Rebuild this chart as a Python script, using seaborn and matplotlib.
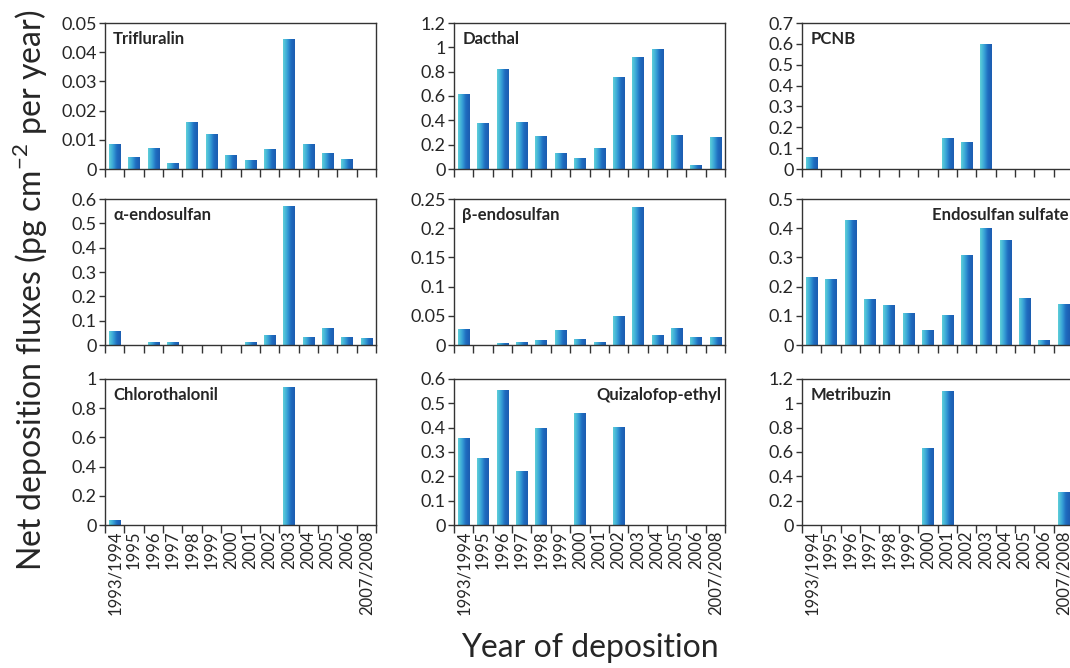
import numpy as np
import matplotlib
matplotlib.use("Agg")
import matplotlib.pyplot as plt
from matplotlib.colors import LinearSegmentedColormap
from matplotlib.ticker import FuncFormatter, MultipleLocator
import seaborn as sns

sns.set_style("ticks")
plt.rcParams["font.family"] = ["Lato", "DejaVu Sans"]
plt.rcParams["mathtext.fontset"] = "custom"
plt.rcParams["mathtext.rm"] = "Lato"

# Data
years = ["1993/1994", "1995", "1996", "1997", "1998", "1999", "2000",
         "2001", "2002", "2003", "2004", "2005", "2006", "2007/2008"]

trifluralin = [0.0085, 0.004, 0.007, 0.002, 0.016, 0.0118, 0.0047,
               0.003, 0.0066, 0.0445, 0.0085, 0.0053, 0.0034, 0]
dacthal = [0.61, 0.37, 0.82, 0.38, 0.27, 0.13, 0.09,
           0.17, 0.75, 0.92, 0.98, 0.275, 0.03, 0.26]
pcnb = [0.055, 0, 0, 0, 0, 0, 0, 0.145, 0.125, 0.595, 0, 0, 0, 0]
a_endosulfan = [0.055, 0, 0.012, 0.01, 0, 0, 0,
                0.01, 0.04, 0.57, 0.032, 0.068, 0.032, 0.028]
b_endosulfan = [0.027, 0, 0.003, 0.004, 0.007, 0.025, 0.01,
                0.005, 0.049, 0.236, 0.017, 0.029, 0.012, 0.013]
endo_sulfate = [0.232, 0.225, 0.425, 0.155, 0.135, 0.107, 0.05,
                0.1, 0.305, 0.4, 0.357, 0.16, 0.017, 0.137]
chlorothalonil = [0.03, 0, 0, 0, 0, 0, 0, 0, 0, 0.94, 0, 0, 0, 0]
quizalofop = [0.355, 0.275, 0.553, 0.22, 0.395, 0, 0.457,
              0, 0.402, 0, 0, 0, 0, 0]
metribuzin = [0, 0, 0, 0, 0, 0, 0.63, 1.1, 0, 0, 0, 0, 0, 0.265]

compounds = ["Trifluralin", "Dacthal", "PCNB",
             "α-endosulfan", "β-endosulfan", "Endosulfan sulfate",
             "Chlorothalonil", "Quizalofop-ethyl", "Metribuzin"]
series = [trifluralin, dacthal, pcnb,
          a_endosulfan, b_endosulfan, endo_sulfate,
          chlorothalonil, quizalofop, metribuzin]
ymax = [0.05, 1.2, 0.7, 0.6, 0.25, 0.5, 1.0, 0.6, 1.2]
ystep = [0.01, 0.2, 0.1, 0.1, 0.05, 0.1, 0.2, 0.1, 0.2]
label_right = ["Endosulfan sulfate", "Quizalofop-ethyl"]

grad_cmap = LinearSegmentedColormap.from_list(
    "bar", ["#5fd0d8", "#3aa6d8", "#1f6cc0", "#1c5cb0"])
gradient = np.linspace(0, 1, 64).reshape(1, -1)

W, H = 1070, 668
fig = plt.figure(figsize=(W / 100, H / 100), dpi=100)

col_left = [105, 454, 802]
col_width = 271
row_top = [23, 199, 379]
row_height = 146

fmt = FuncFormatter(lambda v, p: f"{v:g}")

for i, (name, vals) in enumerate(zip(compounds, series)):
    r, c = divmod(i, 3)
    ax = fig.add_axes([col_left[c] / W, 1 - (row_top[r] + row_height) / H,
                       col_width / W, row_height / H])
    sns.barplot(x=years, y=vals, ax=ax, width=0.58, color="#2a8fd0",
                order=years)
    # gradient fill on each bar
    for patch in list(ax.patches):
        x0, y0 = patch.get_x(), patch.get_y()
        w, h = patch.get_width(), patch.get_height()
        patch.set_facecolor("none")
        patch.set_edgecolor("none")
        if h <= 0:
            continue
        ax.imshow(gradient, extent=[x0, x0 + w, y0, y0 + h], cmap=grad_cmap,
                  aspect="auto", interpolation="bicubic", zorder=2)

    ax.set_xlim(-0.5, len(years) - 0.5)
    ax.set_ylim(0, ymax[i])
    ax.yaxis.set_major_locator(MultipleLocator(ystep[i]))
    ax.yaxis.set_major_formatter(fmt)
    ax.set_xlabel("")
    ax.set_ylabel("")

    # boundary ticks, labels at centres
    ax.set_xticks(np.arange(-0.5, len(years)), minor=False)
    ax.set_xticklabels([])
    ax.set_xticks(np.arange(len(years)), minor=True)
    if r == 2:
        ax.set_xticklabels(years, minor=True, rotation=90, fontsize=12)
    else:
        ax.set_xticklabels([], minor=True)
    ax.tick_params(axis="x", which="major", length=6, width=1,
                   color="#333333", direction="out")
    ax.tick_params(axis="x", which="minor", length=0, pad=4)
    ax.tick_params(axis="y", length=4, width=1, color="#333333",
                   labelsize=13, pad=2)
    for sp in ax.spines.values():
        sp.set_color("#333333")
        sp.set_linewidth(1)
        sp.set_visible(True)

    if name in label_right:
        ax.text(0.985, 0.89, name, transform=ax.transAxes, ha="right",
                va="center", fontsize=12, fontweight="bold")
    else:
        ax.text(0.03, 0.89, name, transform=ax.transAxes, ha="left",
                va="center", fontsize=12, fontweight="bold")

fig.text(30 / W, 1 - 290 / H, "Net deposition fluxes (pg cm$^{-2}$ per year)",
         rotation=90, ha="center", va="center", fontsize=23)
fig.text(590 / W, 1 - 648 / H, "Year of deposition",
         ha="center", va="center", fontsize=23)

fig.savefig("out.png", dpi=100)
